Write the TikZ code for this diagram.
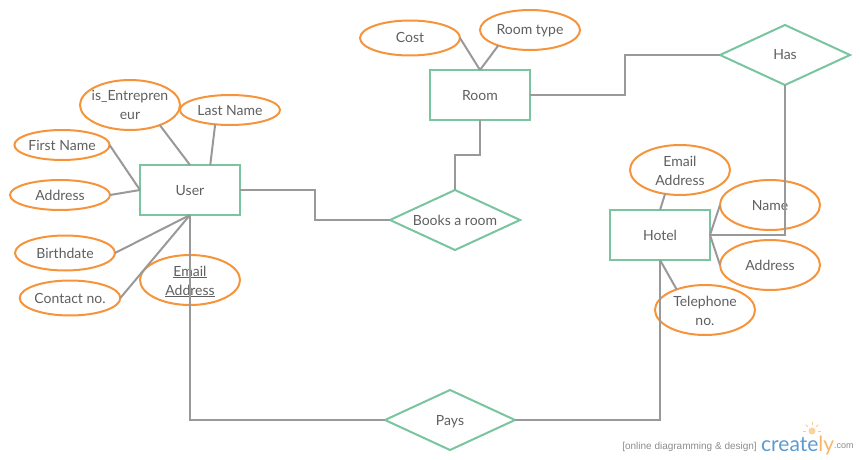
\documentclass[tikz,border=0pt]{standalone}
\usepackage{fontspec}
\setmainfont{Lato}
\usetikzlibrary{shapes.geometric}
\definecolor{boxgreen}{HTML}{7AC4A0}
\definecolor{attrorange}{HTML}{F5943A}
\definecolor{linkgray}{HTML}{999999}
\definecolor{labelgray}{HTML}{5F5F5F}
\definecolor{logoblue}{HTML}{5B9BD0}
\definecolor{logoorange}{HTML}{F7B565}
\tikzset{
  entity/.style = {draw=boxgreen, line width=2pt, rectangle, minimum width=100pt, minimum height=50pt, text=labelgray, inner sep=0pt, outer sep=0pt},
  relation/.style = {draw=boxgreen, line width=2pt, diamond, shape aspect=2.167, minimum width=130pt, minimum height=60pt, text=labelgray, inner sep=0pt, outer sep=0pt},
  attr/.style = {draw=attrorange, line width=2pt, ellipse, minimum width=100pt, minimum height=50pt, text=labelgray, inner sep=0pt, outer sep=0pt, align=center},
  twolines/.style = {text height=30pt, text depth=0pt},
  link/.style = {draw=linkgray, line width=2pt}
}
\begin{document}
\begin{tikzpicture}[x=1pt, y=-1pt, every node/.append style={font=\fontsize{14}{19}\selectfont, text height=13pt, text depth=3pt}]
  \useasboundingbox (0,0) rectangle (860,460);
  % boxes
  \node[entity] (user) at (190,190) {User};
  \node[entity] (room) at (480,95) {Room};
  \node[entity] (hotel) at (660,235) {Hotel};
  \node[relation] (books) at (455,220) {Books a room};
  \node[relation] (has) at (785,55) {Has};
  \node[relation] (pays) at (450,420) {Pays};
  % attributes of room
  \node[attr, minimum height=35pt] (cost) at (410,38) {Cost};
  \node[attr, minimum height=40pt] (roomtype) at (530,30) {Room type};
  % attributes of user
  \node[attr, twolines] (entrepreneur) at (130,105) {\makebox[0pt]{is\_Entrepren}\\eur};
  \node[attr, minimum height=30pt] (lastname) at (230,110) {Last Name};
  \node[attr, minimum width=95pt, minimum height=30pt] (firstname) at (62,145) {First Name};
  \node[attr, minimum height=30pt] (useraddress) at (60,195) {Address};
  \node[attr, minimum height=35pt] (birthdate) at (65,253) {Birthdate};
  \node[attr, minimum height=35pt] (contact) at (70,298) {Contact no.};
  \node[attr, twolines] (useremail) at (190,280) {\underline{Email}\\\underline{Address}};
  % attributes of hotel
  \node[attr, twolines] (hotelemail) at (680,170) {Email\\Address};
  \node[attr] (hotelname) at (770,205) {Name};
  \node[attr] (hoteladdress) at (770,265) {Address};
  \node[attr, twolines] (telephone) at (705,310) {Telephone\\no.};
  % links
  \draw[link] (room.north) -- (cost.east);
  \draw[link] (room.north) -- (roomtype.206);
  \draw[link] (user.north) -- (entrepreneur.326);
  \draw[link] (user.51) -- (lastname.224);
  \draw[link] (user.west) -- (firstname.east);
  \draw[link] (user.west) -- (useraddress.east);
  \draw[link] (user.south) -- (birthdate.east);
  \draw[link] (user.south) -- (contact.east);
  \draw[link] (hotel.north) -- (hotelemail.238);
  \draw[link] (hotel.east) -- (hotelname.west);
  \draw[link] (hotel.east) -- (hoteladdress.west);
  \draw[link] (hotel.south) -- (telephone.144);
  \draw[link] (user.east) -- ++(75,0) |- (books.west);
  \draw[link] (books.north) |- ++(25,-35) -- (room.south);
  \draw[link] (room.east) -- ++(95,0) |- (has.west);
  \draw[link] (has.south) |- (hotel.east);
  \draw[link] (user.south) |- (pays.west);
  \draw[link] (pays.east) -| (hotel.south);
  % logo
  \node[text=black!45, font=\fontsize{10}{12}\selectfont\fontspec{Liberation Sans}, anchor=east, inner sep=0pt] (tagline) at (757,444) {[online diagramming \& design]};
  \node[text=logoblue, font=\fontsize{21}{24}\selectfont, anchor=west, inner sep=0pt] (brand) at (761,446) {create\textcolor{logoorange}{ly}};
  \node[text=black!45, font=\fontsize{9}{10}\selectfont\fontspec{Liberation Sans}, anchor=west, inner sep=0pt] (dotcom) at (834,443.5) {.com};
  \fill[logoorange!60] (812,431) circle (3.5pt);
  \foreach \a in {0,45,...,180}
    \draw[logoorange!70, line width=0.8pt] (812,431) ++(\a:6pt) -- ++(\a:3pt);
\end{tikzpicture}
\end{document}
